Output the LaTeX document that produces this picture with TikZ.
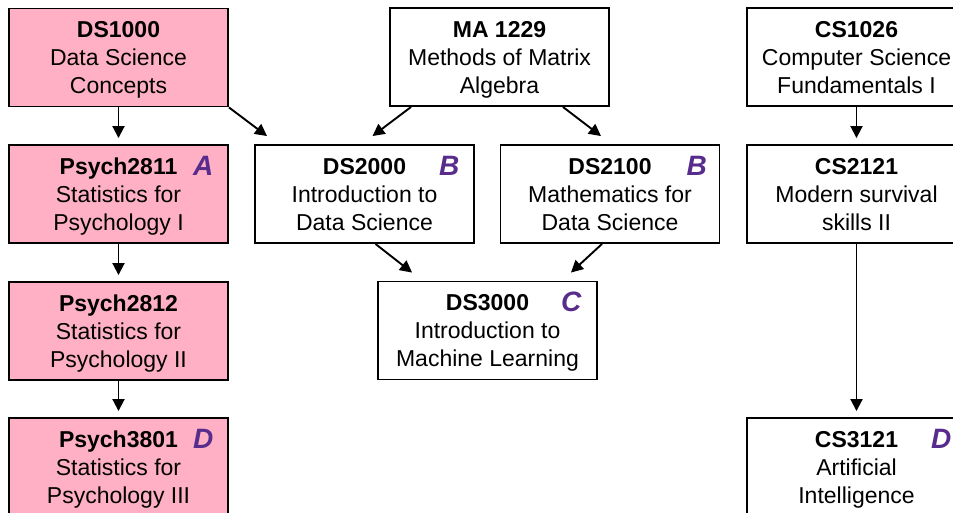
\documentclass[tikz,border=0pt]{standalone}
\usepackage{fontspec}
\setmainfont{Liberation Sans}
\usetikzlibrary{calc,arrows.meta}
\definecolor{pinkbox}{RGB}{255,176,196}
\definecolor{gradecol}{RGB}{88,44,140}
\newcommand{\course}[3]{\begin{tabular}[t]{@{}c@{}}\textbf{#1}\\#2\\#3\end{tabular}}
\begin{document}
\begin{tikzpicture}[x=1pt,y=-1pt,
  coursebox/.style={draw=black, line width=1.9pt, minimum width=219pt, minimum height=98pt,
    inner sep=0pt, text height=29pt, text depth=69pt, font=\fontsize{23}{28}\selectfont},
  pinkc/.style={coursebox, fill=pinkbox},
  whitec/.style={coursebox, fill=white},
  gradel/.style={anchor=base west, inner sep=0pt, text=gradecol,
    font=\fontsize{28}{28}\selectfont\bfseries\itshape},
  arr/.style={line width=1.9pt, -{Triangle[length=12pt,width=12pt]}}]
\useasboundingbox (0,0) rectangle (953,512);
\clip (0,0) rectangle (953,512);

% left column
\node[pinkc] (ds1000) at (118.5,57.5) {\course{DS1000}{Data Science}{Concepts}};
\node[pinkc] (p2811) at (118.5,194) {\course{Psych2811}{Statistics for}{Psychology I}};
\node[pinkc] (p2812) at (118.5,331) {\course{Psych2812}{Statistics for}{Psychology II}};
\node[pinkc] (p3801) at (118.5,467) {\course{Psych3801}{Statistics for}{Psychology III}};

% middle
\node[whitec] (ma1229) at (499.5,57) {\course{MA 1229}{Methods of Matrix}{Algebra}};
\node[whitec] (ds2000) at (364.5,194) {\course{DS2000}{Introduction to}{Data Science}};
\node[whitec] (ds2100) at (610,194) {\course{DS2100}{Mathematics for}{Data Science}};
\node[whitec] (ds3000) at (487.5,330.5) {\course{DS3000}{Introduction to}{Machine Learning}};

% right column
\node[whitec] (cs1026) at (856.5,57) {\course{CS1026}{Computer Science}{Fundamentals I}};
\node[whitec] (cs2121) at (856.5,194) {\course{CS2121}{Modern survival}{skills II}};
\node[whitec] (cs3121) at (856.5,467) {\course{CS3121}{Artificial}{Intelligence}};

% grade letters
\node[gradel] (gA) at ($(p2811.north east)+(-36,31)$) {A};
\node[gradel] (gB1) at ($(ds2000.north east)+(-36,31)$) {B};
\node[gradel] (gB2) at ($(ds2100.north east)+(-34,31)$) {B};
\node[gradel] (gC) at ($(ds3000.north east)+(-37,31)$) {C};
\node[gradel] (gD1) at ($(p3801.north east)+(-36,31)$) {D};
\node[gradel] (gD2) at ($(cs3121.north east)+(-36,31)$) {D};

% connectors
\draw[arr] (ds1000.south) -- ($(p2811.north)+(0,-6)$);
\draw[arr] (p2811.south) -- ($(p2812.north)+(0,-6)$);
\draw[arr] (p2812.south) -- ($(p3801.north)+(0,-6)$);
\draw[arr] (ds1000.south east) -- ($(ds2000.north west)+(13,-8)$);
\draw[arr] ($(ma1229.south west)+(22,0)$) -- ($(ds2000.north)+(8,-8)$);
\draw[arr] ($(ma1229.south east)+(-47,0)$) -- ($(ds2100.north)+(-9,-8)$);
\draw[arr] ($(ds2000.south)+(11,0)$) -- ($(ds3000.north west)+(35,-8)$);
\draw[arr] ($(ds2100.south)+(-8,0)$) -- ($(ds3000.north east)+(-27,-8)$);
\draw[arr] (cs1026.south) -- ($(cs2121.north)+(0,-6)$);
\draw[arr] (cs2121.south) -- ($(cs3121.north)+(0,-6)$);
\end{tikzpicture}
\end{document}
